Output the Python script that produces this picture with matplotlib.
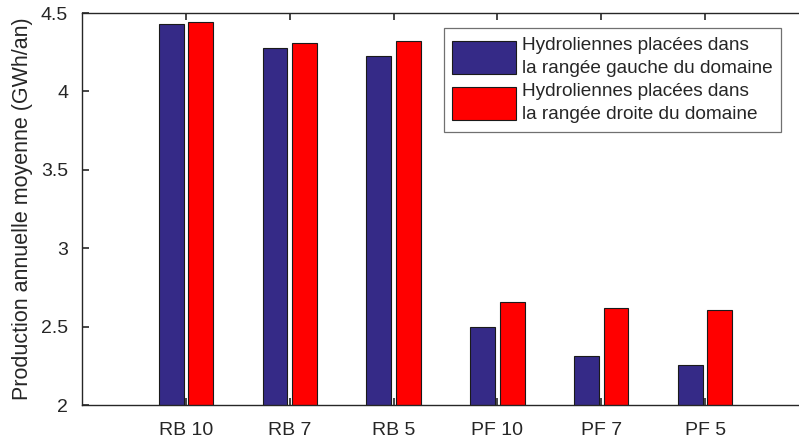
import numpy as np
import matplotlib
matplotlib.use("Agg")
import matplotlib.pyplot as plt

plt.rcParams['font.family'] = ['Liberation Sans', 'DejaVu Sans']

# data
categories = ['RB 10', 'RB 7', 'RB 5', 'PF 10', 'PF 7', 'PF 5']
gauche = [4.43, 4.275, 4.226, 2.495, 2.31, 2.253]
droite = [4.443, 4.309, 4.32, 2.659, 2.617, 2.604]
labels = ['Hydroliennes placées dans\nla rangée gauche du domaine',
          'Hydroliennes placées dans\nla rangée droite du domaine']

fig = plt.figure(figsize=(7.99, 4.41), dpi=100)
ax = fig.add_axes([82 / 799, 36 / 441, 727 / 799, 392 / 441])

x = np.arange(1, len(categories) + 1)
w = 0.24
off = 0.142
txt = '#262626'

ax.bar(x - off, gauche, width=w, color='#352A87', edgecolor='#1a1a1a',
       linewidth=0.8, label=labels[0])
ax.bar(x + off, droite, width=w, color='#FF0000', edgecolor='#1a1a1a',
       linewidth=0.8, label=labels[1])

ax.set_xlim(0, 7)
ax.set_ylim(2, 4.5)
ax.set_xticks(x)
ax.set_xticklabels(categories)
ax.set_yticks([2, 2.5, 3, 3.5, 4, 4.5])
ax.set_yticklabels(['2', '2.5', '3', '3.5', '4', '4.5'])
ax.tick_params(direction='in', length=5, width=1.2, color='#262626',
               labelsize=14, labelcolor=txt, top=True, right=False)
ax.tick_params(axis='y', pad=10)
ax.tick_params(axis='x', pad=12)
ax.spines['right'].set_visible(False)
for s in ax.spines.values():
    s.set_color('#262626')
    s.set_linewidth(1.0)
ax.set_ylabel('Production annuelle moyenne (GWh/an)', fontsize=15.5, color=txt, labelpad=6)

leg = ax.legend(loc='upper right', bbox_to_anchor=(781 / 799, 1 - 28 / 441),
                bbox_transform=fig.transFigure, fontsize=13.7, handlelength=3.35,
                handleheight=2.3, handletextpad=0.3, labelspacing=0.3,
                borderpad=0.45, borderaxespad=0, fancybox=False, framealpha=1)
leg.get_frame().set_edgecolor('#707070')
leg.get_frame().set_linewidth(0.9)
for t in leg.get_texts():
    t.set_color(txt)
    t.set_linespacing(1.5)

fig.savefig('out.png', dpi=100)
